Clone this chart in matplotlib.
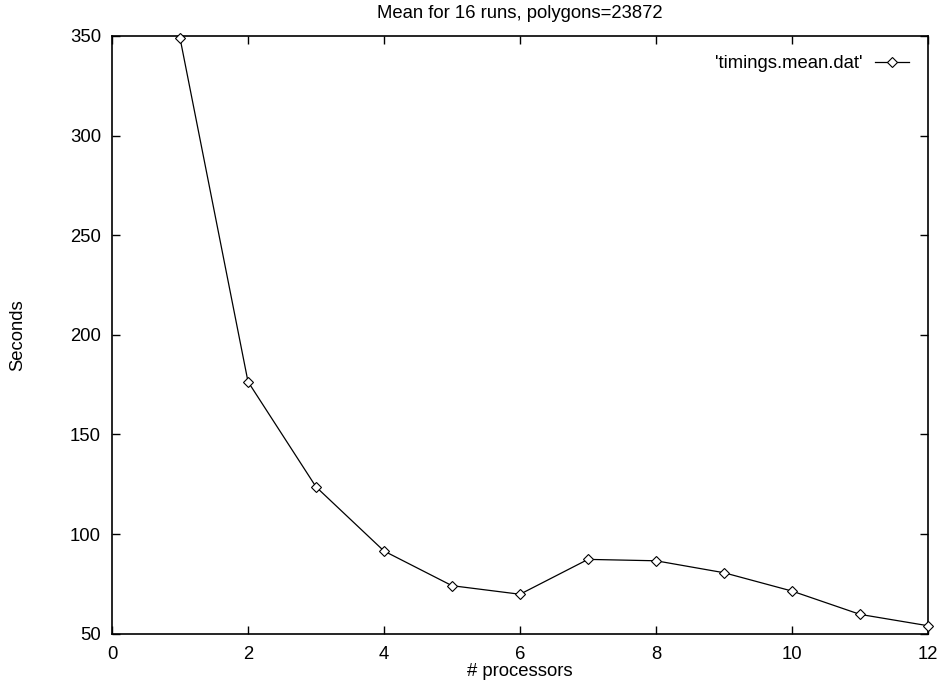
import matplotlib
matplotlib.use("Agg")
import matplotlib.pyplot as plt
from matplotlib.legend_handler import HandlerLine2D
import numpy as np

plt.rcParams['font.family'] = ['Liberation Sans', 'DejaVu Sans']

processors = [1, 2, 3, 4, 5, 6, 7, 8, 9, 10, 11, 12]
seconds = [349.0, 176.5, 123.7, 91.5, 74.1, 69.8, 87.3, 86.6, 80.6, 71.4, 59.7, 54.0]
xticks = [0, 2, 4, 6, 8, 10, 12]
yticks = [50, 100, 150, 200, 250, 300, 350]
series_label = "'timings.mean.dat'"
title = "Mean for 16 runs, polygons=23872"

FS = 13.3


class OffsetMarkerHandler(HandlerLine2D):
    def get_xdata(self, legend, xdescent, ydescent, width, height, fontsize):
        xdata = np.array([-xdescent, -xdescent + width], float)
        xdata_marker = np.array([-xdescent + 0.36 * width], float)
        return xdata, xdata_marker


fig = plt.figure(figsize=(9.4, 6.84), dpi=100)
ax = fig.add_axes([112/940, 1 - 633.7/684, (928 - 112)/940, (633.7 - 36)/684])

line, = ax.plot(processors, seconds, color='black', linewidth=0.9, marker='D',
                markersize=5, markerfacecolor='white', markeredgecolor='black',
                markeredgewidth=0.8, label=series_label, clip_on=False, zorder=3)

ax.set_xlim(0, 12)
ax.set_ylim(50, 350)
ax.set_xticks(xticks)
ax.set_yticks(yticks)
ax.tick_params(direction='in', top=True, right=True, length=6, width=1,
               labelsize=FS, colors='black')
ax.tick_params(axis='x', pad=9)
ax.tick_params(axis='y', pad=8)
for s in ax.spines.values():
    s.set_linewidth(1.2)

ax.set_title(title, fontsize=FS, pad=13)
ax.set_xlabel('# processors', fontsize=FS, labelpad=0)
ax.set_ylabel('Seconds', fontsize=FS, labelpad=31)

leg = ax.legend(loc='upper right', frameon=False, markerfirst=False,
                fontsize=FS, handlelength=1.8, borderaxespad=0.65,
                handletextpad=0.72, numpoints=1,
                handler_map={line: OffsetMarkerHandler()})

fig.savefig('out.png', dpi=100, facecolor='white')
